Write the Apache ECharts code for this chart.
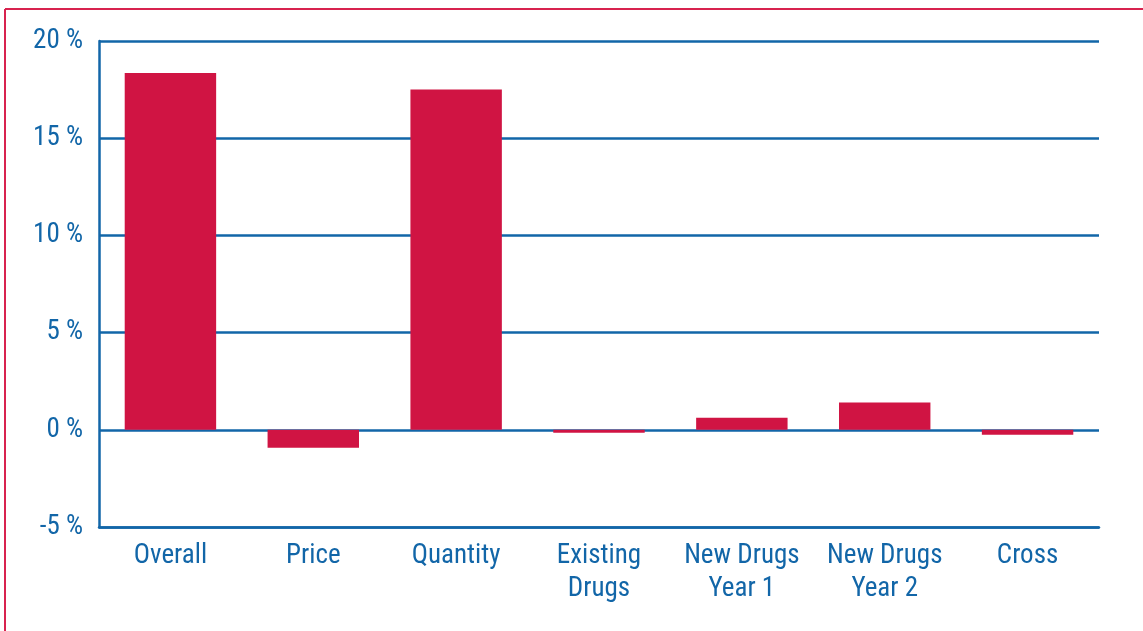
<!DOCTYPE html>
<html>
<head>
<meta charset="utf-8">
<script src="https://cdn.jsdelivr.net/npm/echarts@6/dist/echarts.min.js"></script>
<style>html,body{margin:0;padding:0;background:#fff}#c{width:1143px;height:631px}</style>
</head>
<body>
<div id="c"></div>
<script>
const categories = ['Overall', 'Price', 'Quantity', 'Existing\nDrugs', 'New Drugs\nYear 1', 'New Drugs\nYear 2', 'Cross'];
const values = [18.35, -0.92, 17.5, -0.15, 0.62, 1.4, -0.25];
const yTicks = [-5, 0, 5, 10, 15, 20];

const BLUE = '#1266a8';
const RED = '#d01443';
const FONT = '"Roboto Condensed", "Liberation Sans", sans-serif';

const chart = echarts.init(document.getElementById('c'), null, {renderer: 'canvas'});
chart.setOption({
  animation: false,
  grid: {left: 99, right: 44, top: 41, bottom: 104},
  graphic: [
    {type: 'line', shape: {x1: 5, y1: 9, x2: 1143, y2: 9}, style: {stroke: '#d8234f', lineWidth: 2}},
    {type: 'line', shape: {x1: 5, y1: 9, x2: 5, y2: 631}, style: {stroke: '#d8234f', lineWidth: 2}}
  ],
  xAxis: {
    type: 'category',
    data: categories,
    axisLine: {show: true, onZero: false, lineStyle: {color: BLUE, width: 2.5}},
    axisTick: {show: false},
    axisLabel: {color: BLUE, fontFamily: FONT, fontSize: 27, lineHeight: 33, margin: 13, interval: 0}
  },
  yAxis: {
    type: 'value',
    min: yTicks[0],
    max: yTicks[yTicks.length - 1],
    interval: 5,
    axisLine: {show: true, lineStyle: {color: BLUE, width: 2.5}},
    axisTick: {show: false},
    splitLine: {show: true, lineStyle: {color: BLUE, width: 2.5}},
    axisLabel: {color: BLUE, fontFamily: FONT, fontSize: 27, margin: 16, padding: [0, 0, 7, 0], formatter: v => v + ' %'}
  },
  series: [{
    type: 'bar',
    data: values,
    barWidth: '64%',
    itemStyle: {color: RED},
    z: 3
  }]
});
</script>
</body>
</html>
